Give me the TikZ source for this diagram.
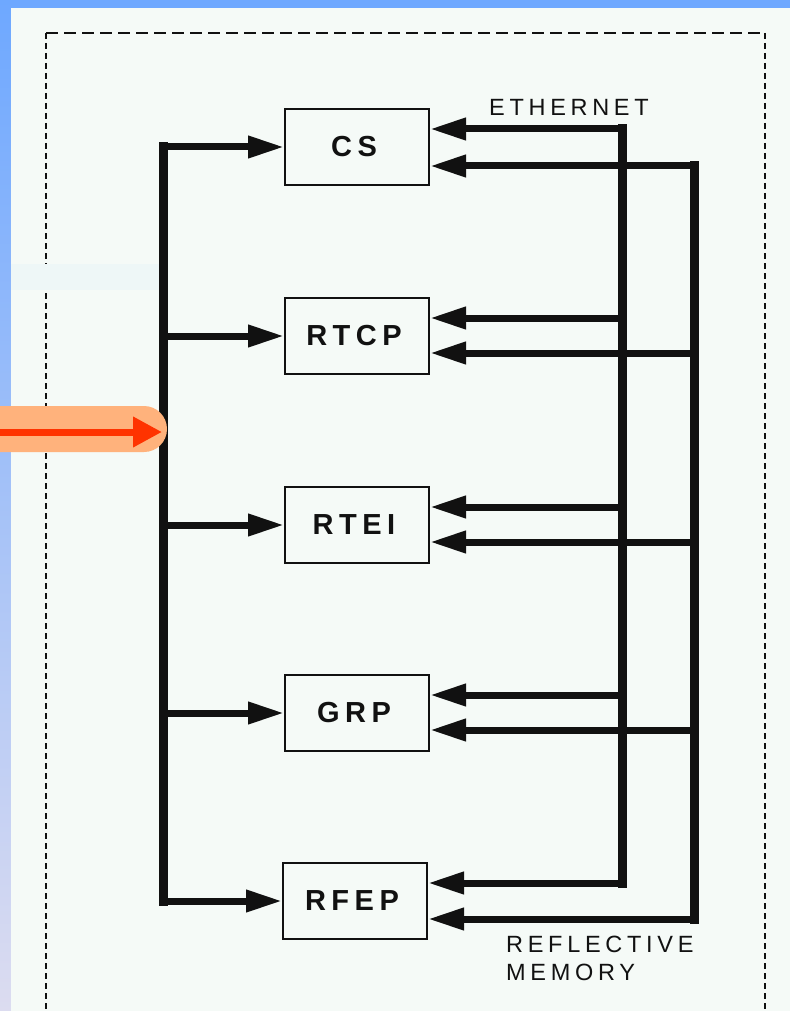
\documentclass[tikz,border=0pt]{standalone}
\usepackage{fontspec}
\setmainfont{Liberation Sans}
\newfontfamily\boxfont[LetterSpace=19]{Liberation Sans}
\newfontfamily\tagfont[LetterSpace=20]{Liberation Sans}
\usepackage{xcolor}
\usepackage{tikz}
\usetikzlibrary{arrows.meta}
\definecolor{SlideBlue}{RGB}{110, 168, 255}
\definecolor{SlideLilac}{RGB}{220, 220, 240}
\definecolor{PanelBg}{RGB}{245, 250, 247}
\definecolor{PatchBg}{RGB}{238, 247, 247}
\definecolor{PillOrange}{RGB}{255, 178, 124}
\definecolor{ArrowRed}{RGB}{255, 51, 0}
\definecolor{Ink}{RGB}{17, 17, 17}

\begin{document}
\begin{tikzpicture}[x=1pt, y=-1pt,
  unit/.style={draw=Ink, line width=2pt, fill=PanelBg, minimum width=144pt, minimum height=76pt,
    inner sep=0pt, font=\boxfont\fontsize{29}{30}\selectfont\bfseries, text=Ink},
  vbus/.style={draw=Ink, line width=9pt, line cap=rect},
  feed/.style={draw=Ink, line width=7pt, line cap=rect, -{Triangle[length=36pt, width=21pt]}},
  tag/.style={font=\tagfont\fontsize{23.5}{28}\selectfont, text=Ink, anchor=base west, inner sep=0pt},
  frame/.style={draw=Ink, line width=2.6pt}]
\useasboundingbox (0,0) rectangle (790,1011);
\clip (0,0) rectangle (790,1011);

% slide background
\fill[SlideBlue] (0,0) rectangle (790,8);
\shade[top color=SlideBlue, bottom color=SlideLilac] (0,0) rectangle (11,1011);
\fill[PanelBg] (11,8) rectangle (790,1011);
\draw[frame, dash pattern=on 12pt off 6pt] (46,33) -- (765,33);
\draw[frame, dash pattern=on 6pt off 4pt] (46,33) -- (46,1030);
\draw[frame, dash pattern=on 6pt off 4pt] (765,33) -- (765,1030);
\fill[PatchBg] (11,264) rectangle (160,290);

% units
\node[unit] (cs)   at (357,147) {CS\kern6pt};
\node[unit] (rtcp) at (357,336) {RTCP\kern6pt};
\node[unit] (rtei) at (357,525) {RTEI\kern6pt};
\node[unit] (grp)  at (357,713) {GRP\kern6pt};
\node[unit] (rfep) at (355,901) {RFEP\kern6pt};

% input bus
\coordinate (in1) at (163,147);
\coordinate (in2) at (163,336);
\coordinate (in3) at (163,525);
\coordinate (in4) at (163,713);
\coordinate (in5) at (163,901);
\draw[vbus] (in1) -- (in5);
\draw[feed] (in1) -- (cs.west);
\draw[feed] (in2) -- (rtcp.west);
\draw[feed] (in3) -- (rtei.west);
\draw[feed] (in4) -- (grp.west);
\draw[feed] (in5) -- (rfep.west);

% ethernet
\coordinate (eth1) at (622,129);
\coordinate (eth2) at (622,318);
\coordinate (eth3) at (622,507);
\coordinate (eth4) at (622,695);
\coordinate (eth5) at (622,883);
\draw[vbus] (eth1) -- (eth5);
\draw[feed] (eth1) -- (cs.east |- eth1);
\draw[feed] (eth2) -- (rtcp.east |- eth2);
\draw[feed] (eth3) -- (rtei.east |- eth3);
\draw[feed] (eth4) -- (grp.east |- eth4);
\draw[feed] (eth5) -- (rfep.east |- eth5);

% reflective memory
\coordinate (rm1) at (694,166);
\coordinate (rm2) at (694,353);
\coordinate (rm3) at (694,542);
\coordinate (rm4) at (694,730);
\coordinate (rm5) at (694,919);
\draw[vbus] (rm1) -- (rm5);
\draw[feed] (rm1) -- (cs.east |- rm1);
\draw[feed] (rm2) -- (rtcp.east |- rm2);
\draw[feed] (rm3) -- (rtei.east |- rm3);
\draw[feed] (rm4) -- (grp.east |- rm4);
\draw[feed] (rm5) -- (rfep.east |- rm5);

\node[tag] (ethtag) at (489,116) {ETHERNET};
\node[tag] (rmtag)  at (506,952) {REFLECTIVE};
\node[tag] (memtag) at (506,980) {MEMORY};

% pointer
\fill[PillOrange, rounded corners=23pt] (-40,406) rectangle (167,452);
\coordinate (src) at (0,432);
\coordinate (hit) at (162,432);
\draw[ArrowRed, line width=7pt, -{Triangle[length=29pt, width=29pt]}] (src) -- (hit);
\end{tikzpicture}
\end{document}
